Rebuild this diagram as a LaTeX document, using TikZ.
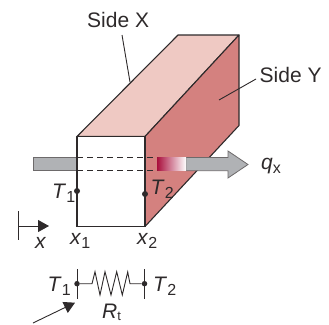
\documentclass[tikz,border=0pt]{standalone}
\usepackage{fontspec}
\setmainfont{Liberation Sans}
\usetikzlibrary{arrows.meta}
\definecolor{ink}{HTML}{2E2A2B}
\definecolor{topface}{HTML}{EFC9C3}
\definecolor{sideface}{HTML}{D4817F}
\definecolor{flow}{HTML}{B0B2B5}
\definecolor{hot}{HTML}{A90F3C}
\newcommand{\sub}[2]{\textit{#1}\raisebox{-4.5pt}{\fontsize{16}{18}\selectfont #2}}
\tikzset{
  x=1pt,y=-1pt,
  edge/.style={draw=ink,line width=1.1pt,line join=round},
  thin edge/.style={draw=ink,line width=0.9pt},
  lab/.style={inner sep=0pt,anchor=base west,text=ink,font=\fontsize{21}{25}\selectfont},
  dot/.style={circle,fill=ink,inner sep=0pt,minimum size=6pt},
  dash edge/.style={draw=ink,line width=0.9pt,dash pattern=on 6pt off 4pt},
  tip/.style={-{Triangle[length=11pt,width=12pt]}}
}
\begin{document}
\begin{tikzpicture}
\useasboundingbox (0,0) rectangle (329,324);
% block
\path[fill=topface,edge] (77,136.5) -- (178,35) -- (239,35) -- (145,136.5) -- cycle;
\path[fill=sideface,edge] (145,136.5) -- (239,35) -- (239,125.5) -- (145,226.5) -- cycle;
\path[fill=white,edge] (77,136.5) rectangle (145,226.5);
% flow arrow
\path[fill=flow,draw=ink!70,line width=0.7pt] (33,157.5) rectangle (77,170.7);
\path[fill=flow,draw=ink!70,line width=0.8pt,line join=miter] (186,157.5) -- (228,157.5) -- (228,151) -- (248,164.5) -- (228,178) -- (228,170.7) -- (186,170.7) -- cycle;
\shade[left color=hot,right color=white] (157,157.5) rectangle (186,170.7);
\draw[dash edge] (77,157.5) -- (157,157.5);
\draw[dash edge] (77,170.7) -- (157,170.7);
\draw[edge] (77,136.5) -- (77,226.5) (145,136.5) -- (145,226.5);
% points
\node[dot] (t1p) at (77,191) {};
\node[dot] (t2p) at (145,194) {};
% labels
\node[lab] (sidex) at (87,27.3) {Side X};
\node[lab] (sidey) at (259.5,82.7) {Side Y};
\node[lab] (qx) at (261,169) {\sub{q}{x}};
\node[lab] (t1) at (52,198) {\sub{T}{1}};
\node[lab] (t2) at (150.5,194) {\sub{T}{2}};
\node[lab] (x1) at (70,244) {\sub{x}{1}};
\node[lab] (x2) at (137,244) {\sub{x}{2}};
\node[lab] (xx) at (35,248) {\textit{x}};
\node[lab] (rt1) at (47.5,291) {\sub{T}{1}};
\node[lab] (rt2) at (153,291) {\sub{T}{2}};
\node[lab] (rt) at (102,318.5) {\textit{R}\raisebox{-2pt}{\fontsize{13}{15}\selectfont t}};
% leaders
\coordinate (xstart) at (122,35);
\coordinate (xend) at (130,82);
\coordinate (ystart) at (256,79);
\coordinate (yend) at (219,100);
\draw[thin edge] (xstart) -- (xend);
\draw[thin edge] (ystart) -- (yend);
% axis
\coordinate (ax0) at (18.5,226);
\coordinate (ax1) at (49,226);
\draw[thin edge] (18.5,211) -- (18.5,239.5);
\draw[thin edge,tip] (ax0) -- (ax1);
% resistor
\node[dot,minimum size=5.5pt] (ra) at (77,283.7) {};
\node[dot,minimum size=5.5pt] (rb) at (144.5,283.7) {};
\draw[thin edge] (77,269) -- (77,298.5) (144.5,269) -- (144.5,298.5);
\draw[thin edge,line join=miter] (ra) -- (92,283.7) -- (95,271.7) -- (100,295) -- (105,271.7) -- (111,295) -- (116.7,271.7) -- (122.3,295) -- (127.7,272) -- (130,283.7) -- (rb);
% pointer
\coordinate (pa) at (33,323);
\coordinate (pb) at (75,302.7);
\draw[thin edge,tip] (pa) -- (pb);
\end{tikzpicture}
\end{document}
